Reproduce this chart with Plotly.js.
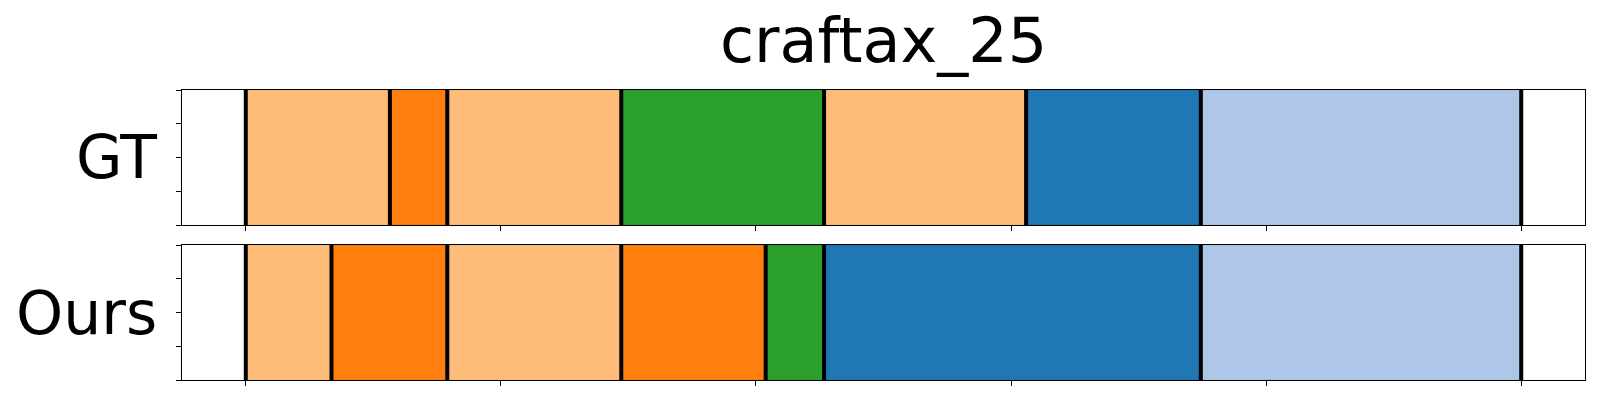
<!DOCTYPE html>
<html>
<head>
<meta charset="utf-8">
<script src="https://cdn.plot.ly/plotly-3.0.1.min.js"></script>
<style>html,body{margin:0;padding:0;background:#fff;}#chart{width:1600px;height:400px;}</style>
</head>
<body>
<div id="chart"></div>
<script>
// ---- data ----
const chartTitle = 'craftax_25';
const rowNames = ['GT', 'Ours'];
const gtBounds = [0, 56.5, 79, 147.2, 226.7, 305.9, 374.4, 500];
const gtLabels = ['light_orange', 'orange', 'light_orange', 'green', 'light_orange', 'blue', 'light_blue'];
const oursBounds = [0, 33.6, 79, 147.2, 203.8, 226.7, 374.4, 500];
const oursLabels = ['light_orange', 'orange', 'light_orange', 'orange', 'green', 'blue', 'light_blue'];
const xTicks = [0, 100, 200, 300, 400, 500];
const yTicks = [0, 0.25, 0.5, 0.75, 1];

// ---- styles ----
const colorMap = {
  light_orange: '#ffbb78',
  orange: '#ff7f0e',
  green: '#2ca02c',
  blue: '#1f77b4',
  light_blue: '#aec7e8'
};
const darker = {
  light_orange: '#f0ac6c',
  orange: '#e8700a',
  green: '#278f27',
  blue: '#1b6aa1',
  light_blue: '#9db6d6'
};

function segTrace(bounds, labels, ax) {
  const base = bounds.slice(0, -1);
  const len = base.map((b, i) => bounds[i + 1] - b);
  return {
    type: 'bar', orientation: 'h',
    y: base.map(() => 0.5), x: len, base: base, width: 1,
    marker: { color: labels.map(l => colorMap[l]), line: { color: labels.map(l => darker[l]), width: 1 } },
    xaxis: 'x' + (ax === 1 ? '' : ax), yaxis: 'y' + (ax === 1 ? '' : ax),
    hoverinfo: 'skip', showlegend: false
  };
}
function lineTrace(bounds, ax) {
  const xs = [], ys = [];
  bounds.forEach(b => { xs.push(b, b, null); ys.push(0, 1, null); });
  return {
    type: 'scatter', mode: 'lines', x: xs, y: ys,
    line: { color: '#000', width: 4 },
    xaxis: 'x' + (ax === 1 ? '' : ax), yaxis: 'y' + (ax === 1 ? '' : ax),
    hoverinfo: 'skip', showlegend: false, cliponaxis: true
  };
}

const data = [
  segTrace(gtBounds, gtLabels, 1), lineTrace(gtBounds, 1),
  segTrace(oursBounds, oursLabels, 2), lineTrace(oursBounds, 2)
];

const xBase = {
  range: [-25, 525], tickvals: xTicks, showticklabels: false,
  ticks: 'outside', ticklen: 5, tickwidth: 1, tickcolor: '#000',
  showline: true, linecolor: '#000', linewidth: 1.2, mirror: true,
  showgrid: false, zeroline: false, fixedrange: true
};
const yBase = {
  range: [0, 1], tickvals: yTicks, showticklabels: false,
  ticks: 'outside', ticklen: 5, tickwidth: 1, tickcolor: '#000',
  showline: true, linecolor: '#000', linewidth: 1.2, mirror: true,
  showgrid: false, zeroline: false, fixedrange: true
};

const gtDomain = [0.5345, 1];
const oursDomain = [0, 0.4655];

const layout = {
  width: 1600, height: 400,
  margin: { l: 182, r: 15, t: 90, b: 20 },
  paper_bgcolor: '#fff', plot_bgcolor: '#fff',
  font: { family: 'DejaVu Sans, sans-serif', color: '#000' },
  barmode: 'overlay', bargap: 0,
  title: { text: chartTitle, font: { size: 62, family: 'DejaVu Sans' }, x: 0.5, xref: 'paper', xanchor: 'center', y: 0.9, yref: 'container', yanchor: 'middle' },
  xaxis: Object.assign({}, xBase, { anchor: 'y' }),
  yaxis: Object.assign({}, yBase, { domain: gtDomain, anchor: 'x' }),
  xaxis2: Object.assign({}, xBase, { anchor: 'y2' }),
  yaxis2: Object.assign({}, yBase, { domain: oursDomain, anchor: 'x2' }),
  annotations: [
    { text: rowNames[0], xref: 'paper', yref: 'paper', x: 0, y: (gtDomain[0] + gtDomain[1]) / 2, xanchor: 'right', yanchor: 'middle', xshift: -23, showarrow: false, font: { size: 60, family: 'DejaVu Sans' } },
    { text: rowNames[1], xref: 'paper', yref: 'paper', x: 0, y: (oursDomain[0] + oursDomain[1]) / 2, xanchor: 'right', yanchor: 'middle', xshift: -23, showarrow: false, font: { size: 60, family: 'DejaVu Sans' } }
  ]
};

Plotly.newPlot('chart', data, layout, { staticPlot: true, displayModeBar: false });
</script>
</body>
</html>
